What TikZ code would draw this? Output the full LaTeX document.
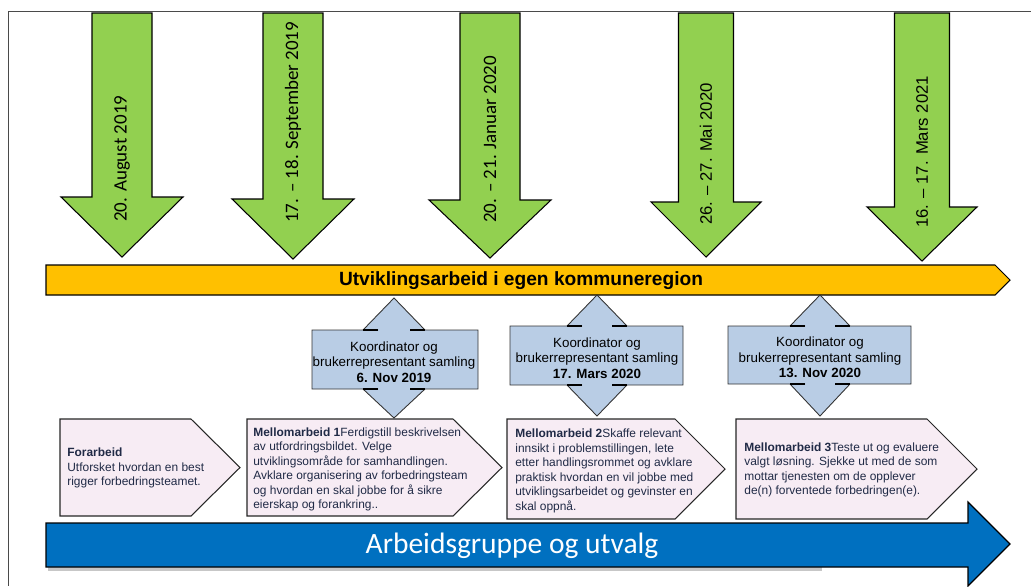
\documentclass[tikz,border=0pt]{standalone}
\usepackage{fontspec}
\setmainfont{Liberation Sans}
\newfontfamily\calibri{Carlito}
\usepackage{tikz}
\usetikzlibrary{positioning}

\definecolor{dategreen}{HTML}{92D050}
\definecolor{barorange}{HTML}{FFC000}
\definecolor{meetblue}{HTML}{B9CDE5}
\definecolor{workpink}{HTML}{F7ECF4}
\definecolor{groupblue}{HTML}{0070C0}
\definecolor{worktext}{HTML}{202A46}
\definecolor{framegray}{HTML}{4A4A4A}

\begin{document}
\begin{tikzpicture}[x=0.02cm, y=-0.02cm,
    datearrow/.style={draw=black, line width=0.6pt, fill=dategreen},
    datetext/.style={rotate=90, anchor=west, inner sep=0pt},
    datecal/.style={font=\calibri\fontsize{10.8}{12}\selectfont},
    datearial/.style={font=\fontsize{9.5}{11}\selectfont},
    meetbox/.style={draw=black!80, line width=0.5pt, fill=meetblue},
    meettext/.style={align=center, inner sep=0pt, font=\fontsize{7.6}{8.8}\selectfont},
    workbox/.style={draw=black!85, line width=0.6pt, fill=workpink},
    worktxt/.style={anchor=west, align=left, inner sep=0pt, text=worktext, font=\fontsize{6.8}{8.25}\selectfont},
]
    \useasboundingbox (0,0) rectangle (1031,586);

    % Ramme
    \draw[framegray, line width=0.5pt] (1031,11) -- (8,11) -- (8,586);

    % Datoer
    \foreach \cx/\sw/\hw/\base/\tip/\ty/\nm/\fnt/\lbl in {
        122/30/61/197/257/222/dA/datecal/{20. August 2019},
        293/30/61/199/259/223/dB/datecal/{17. – 18. September 2019},
        490/30/61/200/258/223/dC/datecal/{20. – 21. Januar 2020},
        706/27.5/55/202/257/225/dD/datearial/{26. – 27. Mai 2020},
        922/27.5/55/207/261/228/dE/datearial/{16. – 17. Mars 2021}}
    {
        \draw[datearrow] (\cx-\sw,13) -- (\cx+\sw,13) -- (\cx+\sw,\base) -- (\cx+\hw,\base)
            -- (\cx,\tip) -- (\cx-\hw,\base) -- (\cx-\sw,\base) -- cycle;
        \node[datetext, \fnt] (\nm) at (\cx,\ty) {\lbl};
    }

    % Utviklingsarbeid
    \draw[draw=black, line width=0.6pt, fill=barorange] (46,265) -- (995,265) -- (1010,280) -- (995,295) -- (46,295) -- cycle;
    \node[inner sep=0pt, font=\bfseries\fontsize{10.9}{12}\selectfont] (kommune) at (521,281) {Utviklingsarbeid i egen kommuneregion};

    % Samlinger
    \foreach \cx/\lft/\rgt/\yt/\yb/\ytip/\ybot/\hw/\sw/\nm/\dato in {
        394/312/478/330/389/298/418/31/16/mA/{6. Nov 2019},
        597/510/683/326/385/295/416/30/15/mB/{17. Mars 2020},
        820/728/911/326/384/295/416/30/15/mC/{13. Nov 2020}}
    {
        \draw[meetbox] (\lft,\yt) -- (\cx-\sw,\yt) -- (\cx-\hw,\yt) -- (\cx,\ytip) -- (\cx+\hw,\yt) -- (\cx+\sw,\yt)
            -- (\rgt,\yt) -- (\rgt,\yb) -- (\cx+\sw,\yb) -- (\cx+\hw,\yb) -- (\cx,\ybot) -- (\cx-\hw,\yb)
            -- (\cx-\sw,\yb) -- (\lft,\yb) -- cycle;
        \draw[line width=1.1pt] (\cx-\hw,\yt) -- (\cx-\sw,\yt) (\cx+\sw,\yt) -- (\cx+\hw,\yt)
            (\cx-\hw,\yb) -- (\cx-\sw,\yb) (\cx+\sw,\yb) -- (\cx+\hw,\yb);
        \node[meettext] (\nm) at (\cx,{(\yt+\yb)/2+2.5}) {Koordinator og\\brukerrepresentant samling\\\textbf{\dato}};
    }

    % Arbeid mellom samlingene
    \draw[workbox] (60,419) -- (191,419) -- (240,467.5) -- (191,516) -- (60,516) -- cycle;
    \node[worktxt] (forarbeid) at (67,468) {\textbf{Forarbeid}\\Utforsket hvordan en best\\rigger forbedringsteamet.};

    \draw[workbox] (247,419) -- (453,419) -- (502,467.5) -- (453,516) -- (247,516) -- cycle;
    \node[worktxt] (mellom1) at (253,469.5) {\textbf{Mellomarbeid 1}Ferdigstill beskrivelsen\\av utfordringsbildet. Velge\\utviklingsområde for samhandlingen.\\Avklare organisering av forbedringsteam\\og hvordan en skal jobbe for å sikre\\eierskap og forankring..};

    \draw[workbox] (507,419) -- (675,419) -- (725,469) -- (675,519) -- (507,519) -- cycle;
    \node[worktxt] (mellom2) at (515,471) {\textbf{Mellomarbeid 2}Skaffe relevant\\innsikt i problemstillingen, lete\\etter handlingsrommet og avklare\\praktisk hvordan en vil jobbe med\\utviklingsarbeidet og gevinster en\\skal oppnå.};

    \draw[workbox] (736,419) -- (927,419) -- (977,469) -- (927,519) -- (736,519) -- cycle;
    \node[worktxt] (mellom3) at (744,470) {\textbf{Mellomarbeid 3}Teste ut og evaluere\\valgt løsning. Sjekke ut med de som\\mottar tjenesten om de opplever\\de(n) forventede forbedringen(e).};

    % Arbeidsgruppe
    \fill[black!22] (48,567) rectangle (822,571);
    \draw[draw=black, line width=0.7pt, fill=groupblue] (46,523) -- (968,523) -- (968,502) -- (1010,544) -- (968,586) -- (968,567) -- (46,567) -- cycle;
    \node[text=white, inner sep=0pt, font=\calibri\fontsize{16.8}{20}\selectfont] (gruppe) at (512,546) {Arbeidsgruppe og utvalg};
\end{tikzpicture}
\end{document}
